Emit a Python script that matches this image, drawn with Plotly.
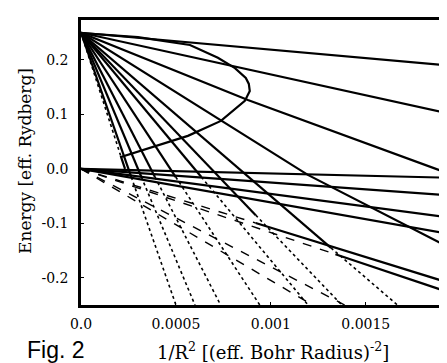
import plotly.graph_objects as go

X_MAX = 0.00197
Y_MIN, Y_MAX = -0.25, 0.2734
E_UPPER = 0.25   # upper fan origin energy
E_LOWER = 0.0    # lower fan origin energy

# Upper fan: fully solid lines (polylines through anticrossings)
upper_solid_x = [[0, 0.00197], [0, 0.00197], [0, 0.000879, 0.00197],
                 [0, 0.000737, 0.001195, 0.00197]]
upper_solid_e = [[0.25, 0.189], [0.25, 0.099], [0.25, 0.1266, -0.0128],
                 [0.25, 0.0881, -0.011, -0.150]]

# Upper fan steep lines: slope, energy where solid turns dotted
steep_slopes = [1000, 833, 680, 531, 418, 364, 300]
steep_switch_e = [-0.015, -0.015, -0.015, -0.015, -0.015, -0.085, -0.145]

# Steepest, dotted from the start, until the rising curve begins
dot_only_x = [0, 0.000211]
dot_only_e = [0.25, 0.022]

# Rising / folding curve
curve_x = [0.000232, 0.000211, 0.000563, 0.000737, 0.000863, 0.000889, 0.000884,
           0.000868, 0.000811, 0.000721, 0.000574, 0.0003, 0.0]
curve_e = [0.0, 0.022, 0.0606, 0.0881, 0.1248, 0.143, 0.156,
           0.167, 0.185, 0.204, 0.2275, 0.242, 0.2495]

# Lower fan
lower_solid_slopes = [8.4, 25, 46, 61.5]
lower_mixed_slopes = [108, 117]
lower_mixed_switch_x = [0.00092, 0.00134]
lower_dashed_slopes = [180, 205]

fig = go.Figure()
SOLID = dict(color="black", width=2.2)
DOT = dict(color="black", width=1.6, dash="dot")
DASH = dict(color="black", width=1.4, dash="dash")


def add(xs, es, line):
    fig.add_trace(go.Scatter(x=xs, y=es, mode="lines", line=line,
                             showlegend=False, hoverinfo="skip"))


for xs, es in zip(upper_solid_x, upper_solid_e):
    add(xs, es, SOLID)

for k, es in zip(steep_slopes, steep_switch_e):
    xs = (E_UPPER - es) / k
    add([0, xs], [E_UPPER, es], SOLID)
    xb = (E_UPPER - Y_MIN) / k
    xe = min(xb, X_MAX)
    add([xs, xe], [es, E_UPPER - k * xe], DOT)

add(dot_only_x, dot_only_e, DOT)
add(curve_x, curve_e, SOLID)

for k in lower_solid_slopes:
    add([0, X_MAX], [E_LOWER, E_LOWER - k * X_MAX], SOLID)

for k, xsw in zip(lower_mixed_slopes, lower_mixed_switch_x):
    add([0, xsw], [E_LOWER, E_LOWER - k * xsw], DASH)
    xe = min(X_MAX, (E_LOWER - Y_MIN) / k)
    add([xsw, xe], [E_LOWER - k * xsw, E_LOWER - k * xe], SOLID)

for k in lower_dashed_slopes:
    xe = min(X_MAX, (E_LOWER - Y_MIN) / k)
    add([0, xe], [E_LOWER, E_LOWER - k * xe], DASH)

SERIF = "DejaVu Serif"
fig.update_layout(
    width=447, height=363,
    margin=dict(l=73, r=0, t=12, b=66),
    paper_bgcolor="white", plot_bgcolor="white",
    xaxis=dict(range=[0, X_MAX], showgrid=False, zeroline=False,
               showline=True, linecolor="black", linewidth=2.5, mirror=True,
               tickvals=[0, 0.0005, 0.001, 0.0015],
               ticktext=["0.0", "0.0005", "0.001", "0.0015"],
               ticks="inside", ticklen=3, tickcolor="black",
               ticklabelstandoff=4,
               tickfont=dict(family=SERIF, size=14, color="black")),
    yaxis=dict(range=[Y_MIN, Y_MAX], showgrid=False, zeroline=False,
               showline=True, linecolor="black", linewidth=2.5,
               tickvals=[-0.2, -0.1, 0.0, 0.1, 0.2],
               ticktext=["-0.2", "-0.1", "0.0", "0.1", "0.2"],
               ticks="inside", ticklen=3, tickcolor="black",
               ticklabelstandoff=7,
               tickfont=dict(family=SERIF, size=14, color="black")),
    annotations=[
        dict(text="Energy [eff. Rydberg]", xref="paper", yref="paper",
             x=-0.15, y=0.505, xanchor="center", yanchor="middle",
             textangle=-90, showarrow=False,
             font=dict(family=SERIF, size=17, color="black")),
        dict(text="1/R<sup>2</sup> [(eff. Bohr Radius)<sup>-2</sup>]",
             xref="paper", yref="paper", x=0.513, y=-0.16,
             xanchor="center", yanchor="middle", showarrow=False,
             font=dict(family=SERIF, size=18, color="black")),
        dict(text="Fig. 2", xref="paper", yref="paper", x=-0.15, y=-0.158,
             xanchor="left", yanchor="middle", showarrow=False,
             font=dict(family="Liberation Sans", size=23, color="black")),
    ],
)

fig.write_html("out.html")
